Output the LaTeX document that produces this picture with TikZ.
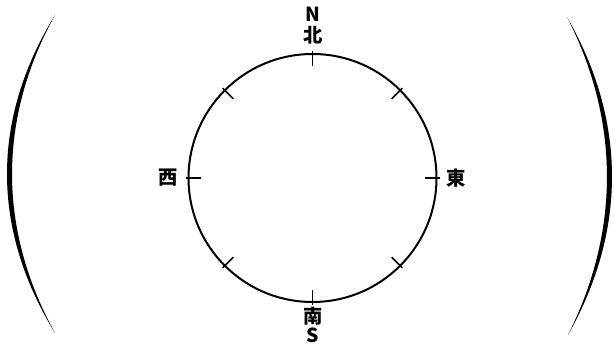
\documentclass[tikz,border=0pt]{standalone}
\usepackage{fontspec}
\usetikzlibrary{calc}
\newfontfamily\cjk{Noto Sans CJK JP}
\begin{document}
\begin{tikzpicture}[x=0.75pt,y=-0.75pt,
  lbl/.style={inner sep=0pt,font=\cjk\bfseries\fontsize{14.5}{14.5}\selectfont},
  ring/.style={draw,line width=1.5pt},
  tick/.style={draw,line width=1.1pt},
  paren/.style={fill=black}]
\useasboundingbox (0,0) rectangle (615,345);
\coordinate (c) at (312.5,178);
\draw[ring] (c) circle[radius=124];
\foreach \a in {0,45,...,315}
  \draw[tick] ($(c)+(\a:127)$) -- ($(c)+(\a:112)$);
\node[lbl] (n) at (313,14) {N};
\node[lbl] (bei) at (313,35) {北};
\node[lbl] (nan) at (313,316) {南};
\node[lbl] (s) at (313,335.5) {S};
\node[lbl] (xi) at (168.5,177.5) {西};
\node[lbl] (dong) at (456,178) {東};
% parentheses
\fill[paren] (55,15) .. controls (-9,119) and (-9,229) .. (55,333)
  .. controls (-2.3,229) and (-2.3,119) .. (55,15) -- cycle;
\fill[paren] (567,17) .. controls (626.8,121) and (626.8,231) .. (568,335)
  .. controls (620.1,231) and (620.1,121) .. (567,17) -- cycle;
\end{tikzpicture}
\end{document}
